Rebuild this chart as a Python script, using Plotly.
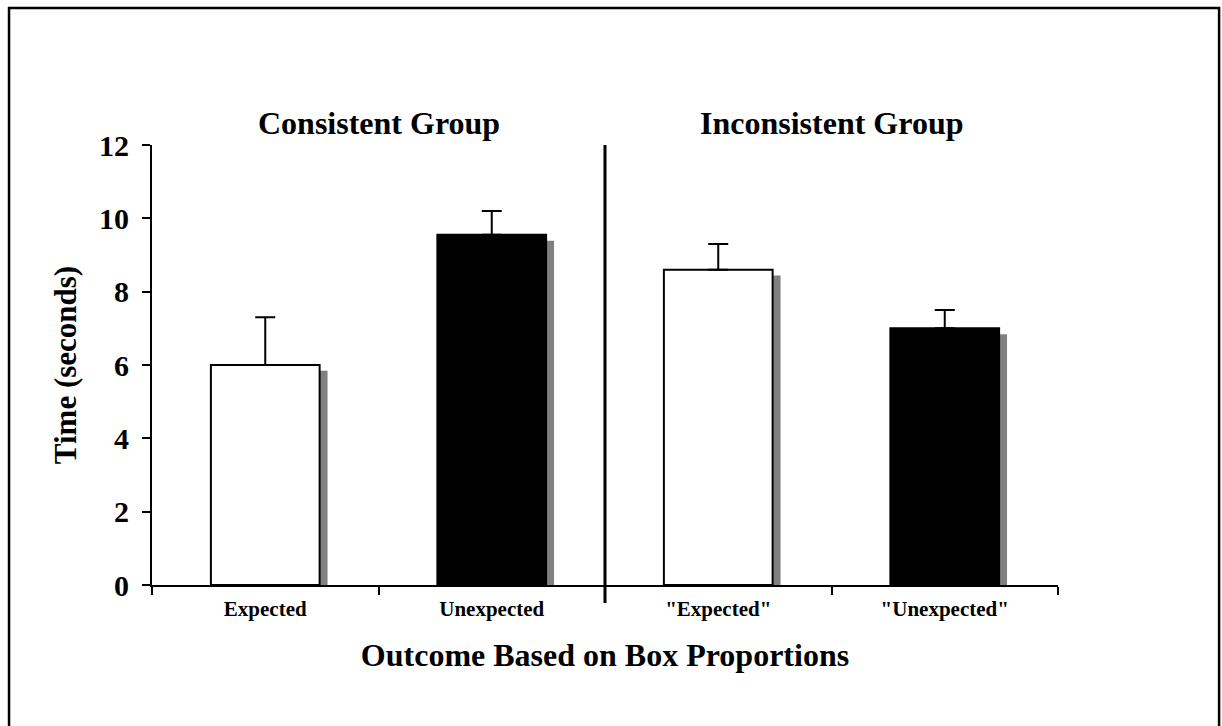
import plotly.graph_objects as go

# Mean search time per condition and the standard error above each bar
categories = ["Expected", "Unexpected", "\"Expected\"", "\"Unexpected\""]
mean_time = [6.0, 9.55, 8.6, 7.0]
std_error = [1.3, 0.65, 0.7, 0.5]
bar_fill = ["white", "black", "white", "black"]
group_titles = ["Consistent Group", "Inconsistent Group"]
y_ticks = [0, 2, 4, 6, 8, 10, 12]

FONT = "Liberation Serif, Times New Roman, serif"
BAR_W = 0.48
SHADOW_DX = 0.035   # shadow shift to the right (category units)
SHADOW_DY = 0.16    # shadow drop (seconds)

fig = go.Figure()

# drop shadows behind each bar
fig.add_trace(go.Bar(
    x=categories,
    y=[v - SHADOW_DY for v in mean_time],
    width=BAR_W,
    offset=-BAR_W / 2 + SHADOW_DX,
    marker=dict(color="#808080", line=dict(width=0)),
    hoverinfo="skip",
    showlegend=False,
))

# main bars with upper error whiskers
fig.add_trace(go.Bar(
    x=categories,
    y=mean_time,
    width=BAR_W,
    marker=dict(color=bar_fill, line=dict(color="black", width=2)),
    error_y=dict(type="data", symmetric=False, array=std_error,
                 arrayminus=[0] * len(std_error),
                 color="black", thickness=2, width=10),
    showlegend=False,
))

fig.update_layout(
    width=1222, height=726,
    margin=dict(l=152, r=164, t=145, b=141),
    paper_bgcolor="white", plot_bgcolor="white",
    barmode="overlay",
    font=dict(family=FONT, color="black"),
    xaxis=dict(
        type="category",
        range=[-0.5, 3.5],
        showline=True, linecolor="black", linewidth=2,
        ticks="outside", tickson="boundaries", ticklen=8, tickwidth=2,
        tickcolor="black",
        tickfont=dict(family=FONT, size=21, weight="bold"),
        ticklabelstandoff=4,
        showgrid=False,
        title=dict(text="Outcome Based on Box Proportions",
                   font=dict(family=FONT, size=32, weight="bold"),
                   standoff=23),
    ),
    yaxis=dict(
        range=[0, 12],
        tickvals=y_ticks,
        showline=True, linecolor="black", linewidth=2,
        ticks="outside", ticklen=8, tickwidth=2, tickcolor="black",
        tickfont=dict(family=FONT, size=30, weight="bold"),
        ticklabelstandoff=7,
        showgrid=False, zeroline=False,
        title=dict(text="Time (seconds)",
                   font=dict(family=FONT, size=31, weight="bold"),
                   standoff=13),
    ),
    shapes=[
        # vertical divider between the two groups
        dict(type="line", xref="x", yref="paper", x0=1.5, x1=1.5,
             y0=-0.041, y1=1.0,
             line=dict(color="black", width=3)),
        # outer frame
        dict(type="rect", xref="paper", yref="paper",
             x0=-0.1578, x1=1.1778, y0=-0.35, y1=1.3114,
             line=dict(color="black", width=2.5)),
    ],
    annotations=[
        dict(text=group_titles[0], x=0.5, y=1.05, xref="x", yref="paper",
             showarrow=False, yanchor="middle",
             font=dict(family=FONT, size=32, weight="bold")),
        dict(text=group_titles[1], x=2.5, y=1.05, xref="x", yref="paper",
             showarrow=False, yanchor="middle",
             font=dict(family=FONT, size=32, weight="bold")),
    ],
)

fig.write_html("out.html")
